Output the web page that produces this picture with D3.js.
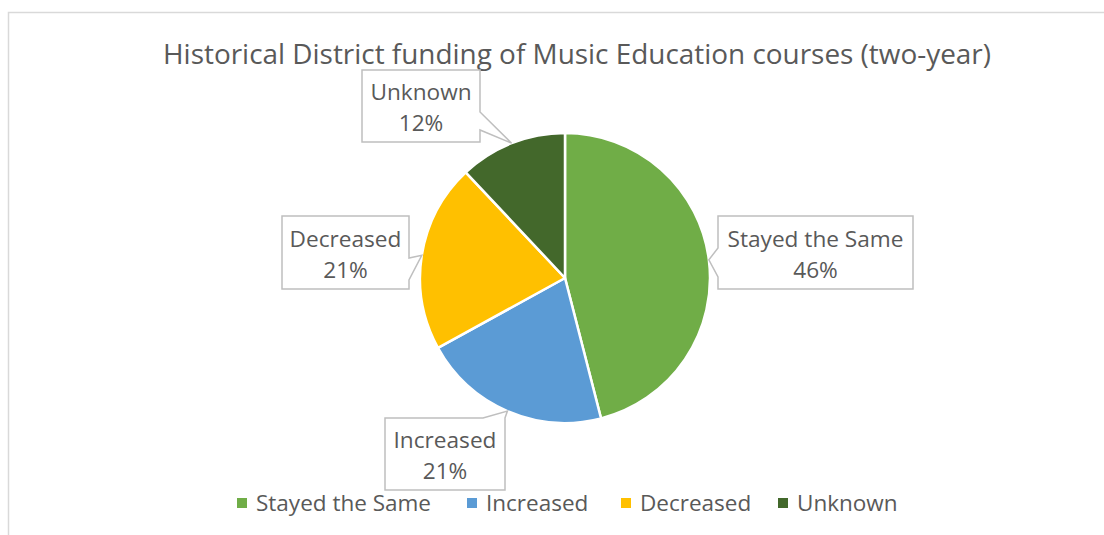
<!DOCTYPE html>
<html>
<head>
<meta charset="utf-8">
<script src="https://cdn.jsdelivr.net/npm/d3@7/dist/d3.min.js"></script>
<style>
  html, body { margin: 0; padding: 0; background: #fff; }
  svg { display: block; }
  text { font-family: "Open Sans", "Noto Sans", sans-serif; fill: #595959; }
</style>
</head>
<body>
<svg id="chart" width="1104" height="535"></svg>
<script>
// Chart data
const title = "Historical District funding of Music Education courses (two-year)";
const categories = ["Stayed the Same", "Increased", "Decreased", "Unknown"];
const shares = [46, 21, 21, 12];
const colors = ["#70AD47", "#5B9BD5", "#FFC000", "#43682B"];

const svg = d3.select("#chart");
const W = 1104, H = 535;

// Chart area frame (the right and bottom edges run past the view)
svg.append("rect")
  .attr("x", 8.5).attr("y", 12.5)
  .attr("width", W + 20).attr("height", H + 20)
  .attr("fill", "#fff").attr("stroke", "#D9D9D9").attr("stroke-width", 1.5);

// Shrink/grow a text element's font size so it spans the wanted width
function fitWidth(sel, width) {
  sel.each(function() {
    const el = this;
    const fs = parseFloat(el.getAttribute("font-size"));
    const w = el.getComputedTextLength();
    if (w > 0) el.setAttribute("font-size", (fs * width / w).toFixed(2));
  });
}

// Title
const titleText = svg.append("text")
  .attr("x", 577).attr("y", 64)
  .attr("text-anchor", "middle")
  .attr("font-size", 26)
  .text(title);
fitWidth(titleText, 828);

// Pie
const cx = 565, cy = 278, r = 145;
const pie = d3.pie().sort(null).value(d => d.value)
  .startAngle(0).endAngle(2 * Math.PI);
const data = categories.map((c, i) => ({ name: c, value: shares[i], color: colors[i] }));
const arcs = pie(data);
const arc = d3.arc().innerRadius(0).outerRadius(r);
const rim = d3.arc().innerRadius(r).outerRadius(r);

const g = svg.append("g").attr("transform", `translate(${cx},${cy})`);
g.selectAll("path.slice")
  .data(arcs)
  .join("path")
  .attr("class", "slice")
  .attr("d", arc)
  .attr("fill", d => d.data.color)
  .attr("stroke", "#fff")
  .attr("stroke-width", 2.5)
  .attr("stroke-linejoin", "round");

// Callout boxes: box rect, the side that carries the pointer and the pointer base span
const callouts = [
  { x0: 718, y0: 216, x1: 913, y1: 289, side: "left",   b0: 248, b1: 277 },
  { x0: 385, y0: 418, x1: 505, y1: 490, side: "top",    b0: 483, b1: 505 },
  { x0: 282, y0: 216, x1: 409, y1: 289, side: "right",  b0: 258, b1: 280 },
  { x0: 362, y0: 70,  x1: 480, y1: 142, side: "right",  b0: 112, b1: 130 }
];

function calloutPath(c, tip) {
  const [tx, ty] = tip;
  const p = d3.path();
  p.moveTo(c.x0, c.y0);
  if (c.side === "top") {
    p.lineTo(c.b0, c.y0); p.lineTo(tx, ty); p.lineTo(c.b1, c.y0);
  }
  p.lineTo(c.x1, c.y0);
  if (c.side === "right") {
    p.lineTo(c.x1, c.b0); p.lineTo(tx, ty); p.lineTo(c.x1, c.b1);
  }
  p.lineTo(c.x1, c.y1);
  p.lineTo(c.x0, c.y1);
  if (c.side === "left") {
    p.lineTo(c.x0, c.b1); p.lineTo(tx, ty); p.lineTo(c.x0, c.b0);
  }
  p.closePath();
  return p.toString();
}

const labels = svg.append("g");
arcs.forEach((a, i) => {
  const c = callouts[i];
  const [px, py] = rim.centroid(a);
  const tip = [cx + px, cy + py];
  labels.append("path")
    .attr("d", calloutPath(c, tip))
    .attr("fill", "#fff")
    .attr("stroke", "#BFBFBF")
    .attr("stroke-width", 1.5)
    .attr("stroke-linejoin", "miter");
  const mx = (c.x0 + c.x1) / 2;
  const my = (c.y0 + c.y1) / 2;
  labels.append("text")
    .attr("x", mx).attr("y", my - 6)
    .attr("text-anchor", "middle")
    .attr("font-size", 20)
    .text(a.data.name);
  labels.append("text")
    .attr("x", mx).attr("y", my + 25)
    .attr("text-anchor", "middle")
    .attr("font-size", 20)
    .text(d3.format(".0f")(a.data.value) + "%");
});
// Use the same size for all callout text, fitted so "Stayed the Same" spans ~176px
{
  const probe = labels.selectAll("text").filter(function() { return this.textContent === categories[0]; });
  const w = probe.node().getComputedTextLength();
  const fs = 20 * 176 / w;
  labels.selectAll("text").attr("font-size", fs.toFixed(2));
}

// Legend
const legendX = [237, 467, 621, 778];
const legend = svg.append("g");
const legendItems = legend.selectAll("g")
  .data(data)
  .join("g")
  .attr("transform", (d, i) => `translate(${legendX[i]},503)`);
legendItems.append("rect")
  .attr("x", 0).attr("y", -5)
  .attr("width", 10).attr("height", 10)
  .attr("fill", d => d.color);
const legendTexts = legendItems.append("text")
  .attr("x", 19).attr("y", 8)
  .attr("font-size", 20)
  .text(d => d.name);
{
  const w = legendTexts.filter(d => d.name === categories[0]).node().getComputedTextLength();
  legendTexts.attr("font-size", (20 * 175 / w).toFixed(2));
}
</script>
</body>
</html>
